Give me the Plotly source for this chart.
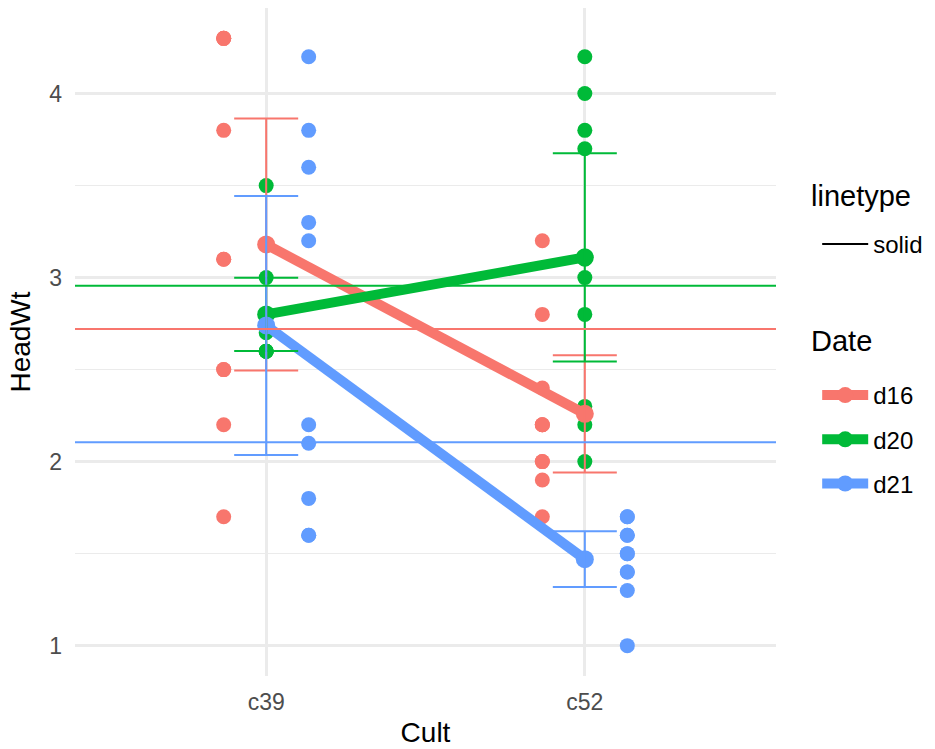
import numpy as np
import plotly.graph_objects as go

# ---- data (MASS::cabbages, HeadWt) ----
cultivars = ["c39", "c52"]
dates = ["d16", "d20", "d21"]

c39_d16 = [2.5, 2.2, 3.1, 4.3, 2.5, 4.3, 3.8, 4.3, 1.7, 3.1]
c39_d20 = [3.0, 2.8, 2.8, 2.7, 2.6, 2.8, 2.6, 2.6, 2.6, 3.5]
c39_d21 = [2.2, 1.8, 1.6, 2.1, 3.3, 3.8, 3.2, 3.6, 4.2, 1.6]
c52_d16 = [2.0, 2.4, 1.9, 2.8, 1.7, 3.2, 2.0, 2.2, 2.2, 2.2]
c52_d20 = [4.0, 2.8, 3.1, 4.2, 3.7, 3.0, 2.2, 2.3, 3.8, 2.0]
c52_d21 = [1.5, 1.4, 1.7, 1.3, 1.7, 1.6, 1.4, 1.0, 1.5, 1.6]

groups = {
    ("c39", "d16"): c39_d16, ("c39", "d20"): c39_d20, ("c39", "d21"): c39_d21,
    ("c52", "d16"): c52_d16, ("c52", "d20"): c52_d20, ("c52", "d21"): c52_d21,
}

colors = {"d16": "#F8766D", "d20": "#00BA38", "d21": "#619CFF"}
T975_DF9 = 2.262157  # t quantile for 95% CI, n = 10
dodge = {"d16": -0.4 / 3, "d20": 0.0, "d21": 0.4 / 3}

fig = go.Figure()

# raw points (dodged)
for d in dates:
    xs, ys = [], []
    for ci, c in enumerate(cultivars):
        vals = groups[(c, d)]
        xs += [ci + dodge[d]] * len(vals)
        ys += vals
    fig.add_trace(go.Scatter(x=xs, y=ys, mode="markers",
                             marker=dict(color=colors[d], size=15),
                             showlegend=False, hoverinfo="y"))

# means with lines
stats = {}
for d in dates:
    means, half = [], []
    for c in cultivars:
        v = np.array(groups[(c, d)])
        m = v.mean()
        se = v.std(ddof=1) / np.sqrt(len(v))
        means.append(m)
        half.append(T975_DF9 * se)
    stats[d] = (means, half)
    fig.add_trace(go.Scatter(x=list(range(len(cultivars))), y=means,
                             mode="lines+markers", name=d,
                             line=dict(color=colors[d], width=10),
                             marker=dict(color=colors[d], size=18),
                             legend="legend2", legendgroup=d))

# error bars (95% CI)
for d in dates:
    means, half = stats[d]
    fig.add_trace(go.Scatter(x=list(range(len(cultivars))), y=means, mode="markers",
                             marker=dict(color=colors[d], size=1, opacity=0),
                             error_y=dict(type="data", array=half, visible=True,
                                          color=colors[d], thickness=2, width=32),
                             showlegend=False, hoverinfo="skip"))

# overall mean per Date (horizontal lines)
for d in dates:
    allv = np.array([v for c in cultivars for v in groups[(c, d)]])
    fig.add_shape(type="line", xref="paper", x0=0, x1=1, yref="y",
                  y0=allv.mean(), y1=allv.mean(),
                  line=dict(color=colors[d], width=2), layer="above")

# linetype legend entry
fig.add_trace(go.Scatter(x=[None], y=[None], mode="lines", name="solid",
                         line=dict(color="black", width=2), legend="legend"))

# legend titles
for txt, ypos in [("linetype", 0.7186), ("Date", 0.5015)]:
    fig.add_annotation(text=txt, xref="paper", yref="paper", x=1.047, y=ypos,
                       xanchor="left", yanchor="middle", showarrow=False,
                       font=dict(size=29, color="black"))

grid = "#EBEBEB"
fig.update_layout(
    width=935, height=749,
    margin=dict(l=75, r=159, t=8, b=73),
    paper_bgcolor="white", plot_bgcolor="white",
    font=dict(family="Liberation Sans, Arial, sans-serif", color="black"),
    xaxis=dict(range=[-0.6, 1.6], tickvals=[0, 1], ticktext=cultivars,
               showgrid=True, gridcolor=grid, gridwidth=2.5, zeroline=False,
               showline=False, ticks="", ticklabelstandoff=10, automargin=False,
               tickfont=dict(size=23, color="#4D4D4D"),
               title=dict(text="Cult", font=dict(size=28), standoff=8)),
    yaxis=dict(range=[0.835, 4.465], tickvals=[1, 2, 3, 4],
               showgrid=True, gridcolor=grid, gridwidth=2.5, zeroline=False,
               showline=False, ticks="", ticklabelstandoff=12, automargin=False,
               tickfont=dict(size=23, color="#4D4D4D"),
               minor=dict(tickvals=[1.5, 2.5, 3.5], showgrid=True,
                          gridcolor=grid, gridwidth=1.3),
               title=dict(text="HeadWt", font=dict(size=28), standoff=10)),
    legend=dict(font=dict(size=24), xref="container", x=0.874, xanchor="left",
                y=0.6797, yanchor="top",
                itemwidth=46, bgcolor="rgba(0,0,0,0)"),
    legend2=dict(font=dict(size=24), xref="container", x=0.874, xanchor="left",
                 y=0.4536, yanchor="top",
                 itemwidth=46, tracegroupgap=10, traceorder="grouped",
                 bgcolor="rgba(0,0,0,0)"),
)

fig.write_html("out.html")
